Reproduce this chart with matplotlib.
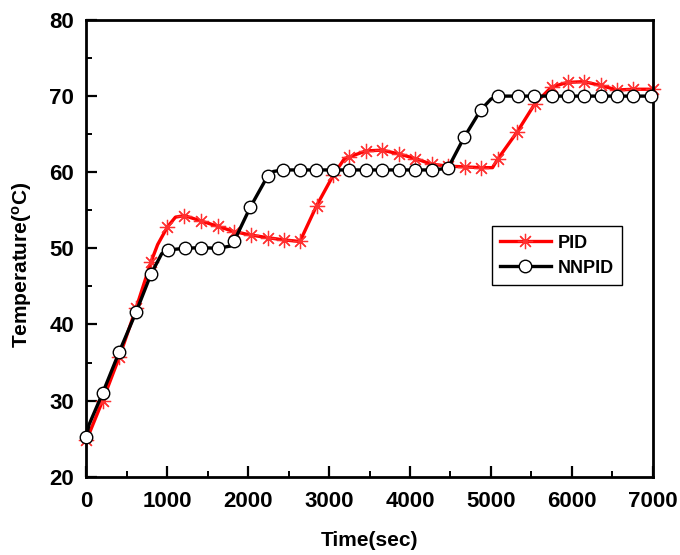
import matplotlib
matplotlib.use("Agg")
import matplotlib.pyplot as plt
from matplotlib.ticker import MultipleLocator

plt.rcParams['font.family'] = ['Liberation Sans', 'DejaVu Sans']
plt.rcParams['font.weight'] = 'bold'
plt.rcParams['mathtext.fontset'] = 'custom'
plt.rcParams['mathtext.rm'] = 'Liberation Sans:bold'
plt.rcParams['mathtext.bf'] = 'Liberation Sans:bold'
plt.rcParams['mathtext.it'] = 'Liberation Sans:bold'

# PID series (line vertices); pid_mark marks the vertices carrying a marker
pid_t = [0, 200, 405, 612, 797, 880, 1000, 1100, 1210, 1415, 1622, 1823, 2030,
         2240, 2445, 2639, 2845, 3051, 3190, 3248, 3455, 3656, 3863, 4064, 4267,
         4468, 4675, 4876, 5020, 5083, 5325, 5544, 5750, 5948, 6150, 6356,
         6561, 6759, 7000]
pid_v = [24.8, 30.0, 35.7, 42.1, 48.2, 50.5, 52.8, 54.1, 54.3, 53.6, 52.9, 52.2,
         51.75, 51.4, 51.1, 50.9, 55.6, 59.6, 61.8, 62.0, 62.8, 62.9, 62.4, 61.8,
         61.05, 60.8, 60.7, 60.6, 60.6, 61.7, 65.3, 69.0, 71.2, 71.8, 71.9, 71.4,
         70.8, 70.9, 70.9]
pid_mark = [1, 1, 1, 1, 1, 0, 1, 0, 1, 1, 1, 1, 1, 1, 1, 1, 1, 1, 0, 1, 1, 1, 1,
            1, 1, 1, 1, 1, 0, 1, 1, 1, 1, 1, 1, 1, 1, 1, 1]

# NNPID series
nn_t = [0, 30, 200, 405, 612, 797, 930, 1011, 1218, 1415, 1622, 1780, 1823, 2025,
        2240, 2310, 2433, 2639, 2837, 3051, 3248, 3455, 3656, 3863, 4064, 4267,
        4468, 4670, 4876, 5000, 5083, 5330, 5535, 5750, 5948, 6150, 6356, 6561,
        6759, 6975]
nn_v = [25.2, 26.8, 31.0, 36.4, 41.6, 46.6, 49.3, 49.8, 50.0, 50.1, 50.0, 50.3,
        50.9, 55.4, 59.5, 60.1, 60.3, 60.3, 60.3, 60.3, 60.3, 60.3, 60.3, 60.3,
        60.3, 60.3, 60.5, 64.6, 68.2, 69.6, 70.0, 70.0, 70.0, 70.0, 70.0, 70.0,
        70.0, 70.0, 70.0, 70.0]
nn_mark = [1, 0, 1, 1, 1, 1, 0, 1, 1, 1, 1, 0, 1, 1, 1, 0, 1, 1, 1, 1, 1, 1, 1, 1,
           1, 1, 1, 1, 1, 0, 1, 1, 1, 1, 1, 1, 1, 1, 1, 1]

x_ticks = [0, 1000, 2000, 3000, 4000, 5000, 6000, 7000]
y_ticks = [20, 30, 40, 50, 60, 70, 80]

fig = plt.figure(figsize=(6.8, 5.55), dpi=100)
ax = fig.add_axes([0.1272, 0.1411, 0.8326, 0.8229])

ax.plot(pid_t, pid_v, color='red', lw=2.4, marker=(8, 2, 0), markersize=11,
        markeredgewidth=0.9, markeredgecolor='#ff3030',
        markevery=[i for i, m in enumerate(pid_mark) if m], label='PID', zorder=2,
        clip_on=False)
ax.plot(nn_t, nn_v, color='black', lw=2.4, marker='o', markersize=9,
        markerfacecolor='white', markeredgecolor='black', markeredgewidth=1.0,
        markevery=[i for i, m in enumerate(nn_mark) if m], label='NNPID', zorder=3,
        clip_on=False)

ax.set_xlim(0, 7000)
ax.set_ylim(20, 80)
ax.set_xticks(x_ticks)
ax.set_yticks(y_ticks)
ax.xaxis.set_minor_locator(MultipleLocator(500))
ax.yaxis.set_minor_locator(MultipleLocator(5))
ax.tick_params(which='major', direction='in', length=8, width=1.6,
               labelsize=16, pad=10)
ax.tick_params(which='minor', direction='in', length=4.5, width=1.4)
ax.tick_params(axis='y', which='major', pad=9)
for lab in ax.get_xticklabels() + ax.get_yticklabels():
    lab.set_fontweight('bold')
for s in ax.spines.values():
    s.set_linewidth(2.0)

ax.set_xlabel('Time(sec)', fontsize=15, fontweight='bold', labelpad=14)
ax.set_ylabel(r'Temperature($^{\mathbf{o}}$C)', fontsize=15, fontweight='bold')
ax.yaxis.set_label_coords(-0.092, 0.463)

leg = ax.legend(loc='upper left', bbox_to_anchor=(0.716, 0.548),
                prop={'weight': 'bold', 'size': 13}, frameon=True, fancybox=False,
                edgecolor='black', handlelength=2.8, borderpad=0.45,
                labelspacing=0.45, handletextpad=0.4, borderaxespad=0)
leg.get_frame().set_linewidth(1.0)
leg.get_frame().set_alpha(1)

fig.savefig('out.png', dpi=100)
